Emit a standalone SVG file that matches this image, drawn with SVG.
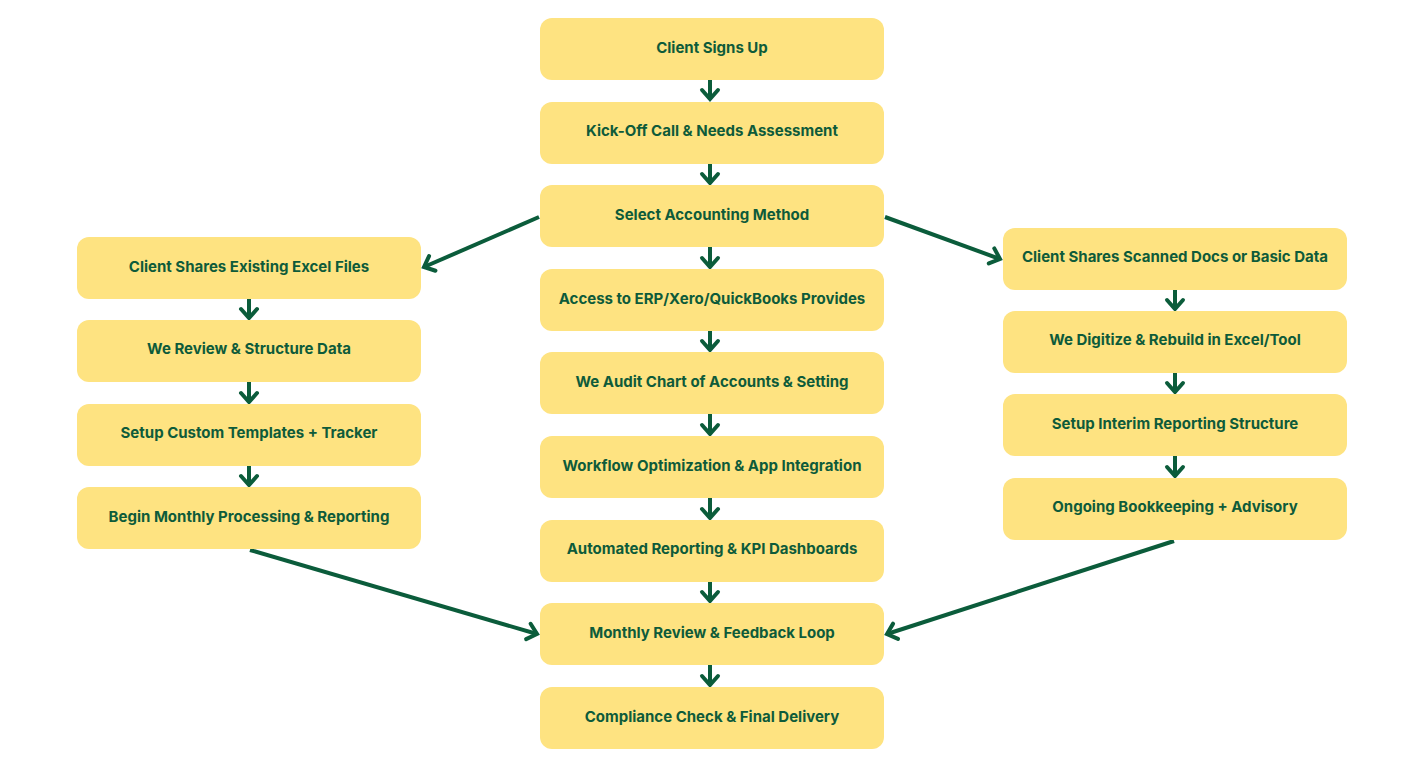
<svg xmlns="http://www.w3.org/2000/svg" width="1424" height="768" viewBox="0 0 1424 768">
<style>
.box{fill:#FEE381}
.lbl{font-family:Inter,"Open Sans","Liberation Sans",sans-serif;font-weight:700;font-size:15px;fill:#0E5B3A;text-anchor:middle;dominant-baseline:central}
.con{stroke:#0B5C3B;stroke-width:4;fill:none;marker-end:url(#ah)}
</style>
<defs>
<marker id="ah" markerUnits="userSpaceOnUse" viewBox="-12 -12 16 24" refX="0" refY="0" markerWidth="16" markerHeight="24" orient="auto">
<path d="M-9,-8 L0,0 L-9,8" fill="none" stroke="#0B5C3B" stroke-width="4" stroke-linecap="round" stroke-linejoin="miter"/>
</marker>
</defs>
<rect width="1424" height="768" fill="#fff"/>
<g id="connectors">
<line class="con" x1="710" y1="80" x2="710" y2="99"/>
<line class="con" x1="710" y1="164" x2="710" y2="183"/>
<line class="con" x1="710" y1="247" x2="710" y2="267"/>
<line class="con" x1="710" y1="331" x2="710" y2="350"/>
<line class="con" x1="710" y1="414" x2="710" y2="434"/>
<line class="con" x1="710" y1="498" x2="710" y2="518"/>
<line class="con" x1="710" y1="582" x2="710" y2="601"/>
<line class="con" x1="710" y1="665" x2="710" y2="685"/>
<line class="con" x1="539" y1="217" x2="424" y2="267"/>
<line class="con" x1="885" y1="217" x2="1000" y2="259"/>
<line class="con" x1="249" y1="299" x2="249" y2="318"/>
<line class="con" x1="249" y1="382" x2="249" y2="402"/>
<line class="con" x1="249" y1="466" x2="249" y2="485"/>
<line class="con" x1="1175" y1="290" x2="1175" y2="309"/>
<line class="con" x1="1175" y1="373" x2="1175" y2="392"/>
<line class="con" x1="1175" y1="456" x2="1175" y2="476"/>
<line class="con" x1="250" y1="550" x2="537" y2="634"/>
<line class="con" x1="1174" y1="541" x2="887" y2="634"/>
</g>
<g id="n1"><rect class="box" x="540" y="18" width="344" height="62" rx="12"/><text class="lbl" x="712" y="47">Client Signs Up</text></g>
<g id="n2"><rect class="box" x="540" y="102" width="344" height="62" rx="12"/><text class="lbl" x="712" y="130">Kick-Off Call &amp; Needs Assessment</text></g>
<g id="n3"><rect class="box" x="540" y="185" width="344" height="62" rx="12"/><text class="lbl" x="712" y="214">Select Accounting Method</text></g>
<g id="n4"><rect class="box" x="540" y="269" width="344" height="62" rx="12"/><text class="lbl" x="712" y="298">Access to ERP/Xero/QuickBooks Provides</text></g>
<g id="n5"><rect class="box" x="540" y="352" width="344" height="62" rx="12"/><text class="lbl" x="712" y="381">We Audit Chart of Accounts &amp; Setting</text></g>
<g id="n6"><rect class="box" x="540" y="436" width="344" height="62" rx="12"/><text class="lbl" x="712" y="465">Workflow Optimization &amp; App Integration</text></g>
<g id="n7"><rect class="box" x="540" y="520" width="344" height="62" rx="12"/><text class="lbl" x="712" y="548">Automated Reporting &amp; KPI Dashboards</text></g>
<g id="n8"><rect class="box" x="540" y="603" width="344" height="62" rx="12"/><text class="lbl" x="712" y="632">Monthly Review &amp; Feedback Loop</text></g>
<g id="n9"><rect class="box" x="540" y="687" width="344" height="62" rx="12"/><text class="lbl" x="712" y="716">Compliance Check &amp; Final Delivery</text></g>
<g id="l1"><rect class="box" x="77" y="237" width="344" height="62" rx="12"/><text class="lbl" x="249" y="266">Client Shares Existing Excel Files</text></g>
<g id="l2"><rect class="box" x="77" y="320" width="344" height="62" rx="12"/><text class="lbl" x="249" y="348">We Review &amp; Structure Data</text></g>
<g id="l3"><rect class="box" x="77" y="404" width="344" height="62" rx="12"/><text class="lbl" x="249" y="432">Setup Custom Templates + Tracker</text></g>
<g id="l4"><rect class="box" x="77" y="487" width="344" height="62" rx="12"/><text class="lbl" x="249" y="516">Begin Monthly Processing &amp; Reporting</text></g>
<g id="r1"><rect class="box" x="1003" y="228" width="344" height="62" rx="12"/><text class="lbl" x="1175" y="256">Client Shares Scanned Docs or Basic Data</text></g>
<g id="r2"><rect class="box" x="1003" y="311" width="344" height="62" rx="12"/><text class="lbl" x="1175" y="339">We Digitize &amp; Rebuild in Excel/Tool</text></g>
<g id="r3"><rect class="box" x="1003" y="394" width="344" height="62" rx="12"/><text class="lbl" x="1175" y="423">Setup Interim Reporting Structure</text></g>
<g id="r4"><rect class="box" x="1003" y="478" width="344" height="62" rx="12"/><text class="lbl" x="1175" y="506">Ongoing Bookkeeping + Advisory</text></g>
</svg>
